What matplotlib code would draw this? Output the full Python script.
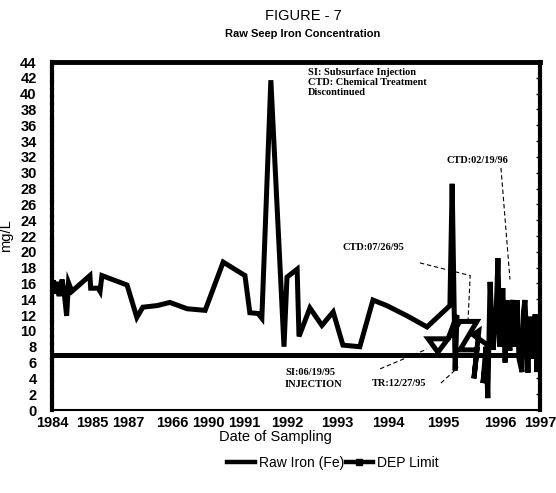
import matplotlib

matplotlib.use("Agg")
import matplotlib.pyplot as plt
from matplotlib.lines import Line2D

plt.rcParams["font.family"] = ["Liberation Sans", "DejaVu Sans"]

# sampling positions along the (irregular) date axis, and raw seep iron (mg/L)
sample_pos = [
    0.00, 0.04, 0.08, 0.13, 0.19, 0.27, 0.32, 0.39, 0.44, 0.53,
    1.01, 1.03, 1.23, 1.28, 1.33, 2.00, 2.26, 2.42, 2.80, 3.14,
    3.60, 4.08, 4.56, 5.14, 5.27, 5.49, 5.59, 5.83, 6.18, 6.26,
    6.53, 6.58, 6.87, 7.19, 7.49, 7.75, 8.20, 8.55, 8.92, 9.46,
    9.99, 10.60, 10.66, 10.74, 10.79, 10.55, 10.02, 10.28, 10.55, 10.87,
    11.32, 10.87, 11.32, 11.24, 11.37, 11.22, 11.61, 11.48, 11.56, 11.61,
    11.67, 11.75, 11.83, 11.88, 11.93, 12.01, 12.07, 12.12, 12.16, 12.20,
    12.24, 12.28, 12.33, 12.39, 12.44, 12.52, 12.56, 12.60, 12.68, 12.73,
    12.77, 12.81, 12.87, 12.92, 12.95, 13.00,
]
raw_iron = [
    15.7, 16.4, 14.7, 16.2, 14.4, 16.5, 15.0, 11.9, 16.1, 15.0,
    17.0, 15.4, 15.4, 15.0, 17.0, 15.8, 11.7, 13.0, 13.2, 13.6,
    12.8, 12.6, 18.7, 17.0, 12.3, 12.2, 11.6, 41.7, 8.0, 16.8,
    17.8, 9.3, 12.9, 10.7, 12.4, 8.2, 8.0, 13.9, 13.2, 11.9,
    10.5, 13.2, 28.6, 5.0, 12.0, 9.0, 9.0, 7.3, 9.0, 11.2,
    11.2, 7.6, 7.6, 4.0, 10.0, 9.5, 8.2, 3.4, 8.0, 1.5,
    16.2, 7.6, 12.0, 19.2, 8.0, 15.4, 6.0, 13.9, 8.5, 7.5,
    13.0, 13.9, 8.0, 13.9, 6.5, 4.8, 12.5, 13.9, 4.7, 11.8,
    8.0, 6.5, 12.1, 4.8, 10.8, 7.5,
]
dep_limit = 7.0

tick_pos = [0, 1.07, 2.02, 3.20, 4.16, 5.11, 6.26, 7.59, 8.95, 10.42, 11.93, 13]
tick_labels = ["1984", "1985", "1987", "1966", "1990", "1991", "1992",
               "1993", "1994", "1995", "1996", "1997"]
y_ticks = list(range(0, 45, 2))

fig = plt.figure(figsize=(5.56, 4.93), dpi=100)
ax = fig.add_axes([52 / 556, 83 / 493, 488 / 556, 348 / 493])

ax.plot(sample_pos, raw_iron, color="black", linewidth=3.6,
        solid_joinstyle="miter", solid_capstyle="butt", zorder=3)
ax.axhline(dep_limit, color="black", linewidth=3.6, zorder=2)

ax.set_xlim(0, 13)
ax.set_ylim(0, 44)
ax.set_xticks(tick_pos)
ax.set_xticklabels(tick_labels)
ax.set_yticks(y_ticks)
ax.tick_params(axis="x", length=0, pad=4, labelsize=10.5)
ax.tick_params(axis="y", which="both", left=False, right=True, direction="in",
               length=3, width=1, pad=11, labelsize=10.5)
for lbl in ax.get_xticklabels() + ax.get_yticklabels():
    lbl.set_fontweight("bold")

ax.spines["top"].set_linewidth(3.5)
ax.spines["right"].set_linewidth(3.0)
ax.spines["bottom"].set_linewidth(1.5)
ax.spines["left"].set_linewidth(3.0)
ax.spines["left"].set_linestyle((0, (1.2, 0.6)))

ax.set_ylabel("mg/L", fontsize=10.5)
ax.yaxis.set_label_coords(-39 / 488, 0.5)
ax.set_xlabel("Date of Sampling", fontsize=10.5)
ax.xaxis.set_label_coords(0.457, -0.058)

fig.text(303 / 556, 1 - 16 / 493, "FIGURE - 7", ha="center", va="center",
         fontsize=10.5)
fig.text(303 / 556, 1 - 34 / 493, "Raw Seep Iron Concentration", ha="center",
         va="center", fontsize=8, fontweight="bold")

serif = dict(family=["Liberation Serif", "DejaVu Serif"], fontsize=7.5,
             fontweight="bold")
ax.text(6.82, 43.2, "SI: Subsurface Injection\nCTD: Chemical Treatment\nDiscontinued",
        ha="left", va="top", linespacing=1.15, **serif)
ax.text(11.32, 31.6, "CTD:02/19/96", ha="center", va="center", **serif)
ax.text(8.55, 20.6, "CTD:07/26/95", ha="center", va="center", **serif)
ax.text(6.21, 4.8, "SI:06/19/95", ha="left", va="center", **serif)
ax.text(6.21, 3.2, "INJECTION", ha="left", va="center", **serif)
ax.text(8.52, 3.3, "TR:12/27/95", ha="left", va="center", **serif)

lead = dict(color="black", linewidth=0.8, linestyle=(0, (4, 2.5)), zorder=4)
ax.plot([11.96, 12.2], [30.6, 16.5], **lead)
ax.plot([9.80, 11.14, 11.08], [18.6, 17.0, 11.1], **lead)
ax.plot([8.74, 9.99], [5.2, 7.7], **lead)
ax.plot([10.36, 10.82], [3.4, 5.4], **lead)

handles = [
    Line2D([], [], color="black", linewidth=3.2),
    Line2D([], [], color="black", linewidth=3.2, marker="s", markersize=5),
]
fig.legend(handles, ["Raw Iron (Fe)", "DEP Limit"], loc="center",
           bbox_to_anchor=(333 / 556, 1 - 463 / 493), ncol=2, frameon=False,
           fontsize=10, handlelength=2.0, handletextpad=0.3, columnspacing=0.1)

fig.savefig("out.png", dpi=100)
